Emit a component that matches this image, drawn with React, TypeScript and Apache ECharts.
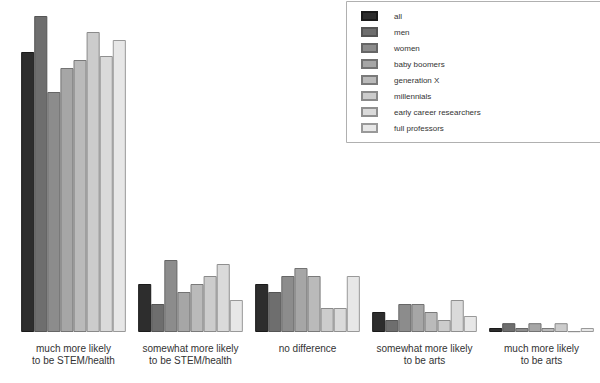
import React, { useEffect, useRef } from "react";
import * as echarts from "echarts";

const categories = [
  "much more likely\nto be STEM/health",
  "somewhat more likely\nto be STEM/health",
  "no difference",
  "somewhat more likely\nto be arts",
  "much more likely\nto be arts",
];

const seriesNames = [
  "all",
  "men",
  "women",
  "baby boomers",
  "generation X",
  "millennials",
  "early career researchers",
  "full professors",
];

const all = [70, 12, 12, 5, 1];
const men = [79, 7, 10, 3, 2.2];
const women = [60, 18, 14, 7, 1];
const babyBoomers = [66, 10, 16, 7, 2.2];
const generationX = [68, 12, 14, 5, 1];
const millennials = [75, 14, 6, 3, 2.2];
const earlyCareer = [69, 17, 6, 8, 0.2];
const fullProfessors = [73, 8, 14, 4, 1];

const seriesData = [all, men, women, babyBoomers, generationX, millennials, earlyCareer, fullProfessors];

const fills = ["#2d2d2d", "#6e6e6e", "#8c8c8c", "#a6a6a6", "#bababa", "#cccccc", "#dadada", "#e7e7e7"];
const borders = ["#1a1a1a", "#555555", "#666666", "#737373", "#7a7a7a", "#8a8a8a", "#8f8f8f", "#999999"];

export default function App() {
  const ref = useRef<HTMLDivElement>(null);
  useEffect(() => {
    if (!ref.current) return;
    const chart = echarts.init(ref.current, null, { renderer: "svg" });
    chart.setOption({
      animation: false,
      backgroundColor: "#ffffff",
      textStyle: { fontFamily: "Liberation Sans, Arial, sans-serif" },
      grid: { left: 15, right: -3, top: 12, bottom: 51, containLabel: false },
      graphic: [
        {
          type: "rect",
          shape: { x: 346.5, y: 1.5, width: 260, height: 141 },
          style: { fill: "#ffffff", stroke: "#b0b0b0", lineWidth: 1 },
          z: -1,
        },
      ],
      legend: {
        orient: "vertical",
        left: 361,
        top: 11,
        icon: "rect",
        itemWidth: 15,
        itemHeight: 8,
        itemGap: 6,
        padding: 0,
        textStyle: { fontSize: 8, color: "#333", padding: [0, 0, 0, 12] },
        data: seriesNames,
      },
      xAxis: {
        type: "category",
        data: categories,
        axisLine: { show: false },
        axisTick: { show: false },
        axisLabel: { color: "#333", fontSize: 10, lineHeight: 12, margin: 10, interval: 0 },
      },
      yAxis: {
        type: "value",
        min: 0,
        max: 80,
        show: false,
        splitLine: { show: false },
      },
      series: seriesNames.map((name, i) => ({
        name,
        type: "bar",
        data: seriesData[i],
        barGap: "0%",
        barCategoryGap: "10.5%",
        itemStyle: { color: fills[i], borderColor: borders[i], borderWidth: 1 },
      })),
    });
    return () => chart.dispose();
  }, []);
  return <div ref={ref} style={{ width: 600, height: 383, position: "absolute", left: 0, top: 0 }} />;
}
